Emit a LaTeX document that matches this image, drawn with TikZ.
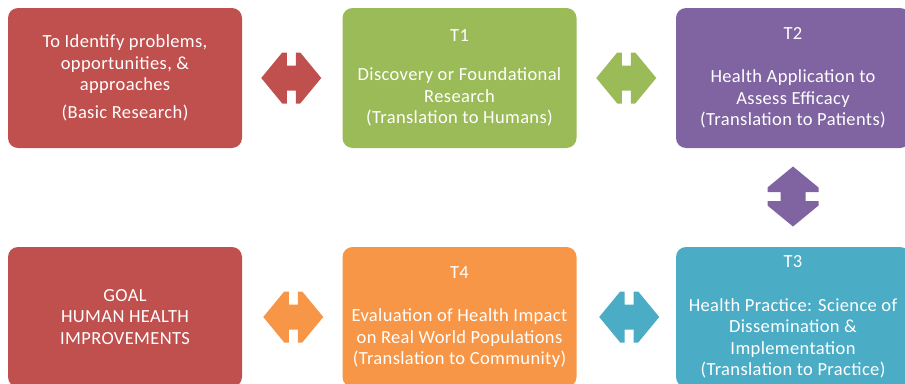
\documentclass[tikz,border=0pt]{standalone}
\usepackage{fontspec}
\setmainfont{Carlito}[LetterSpace=2]
\definecolor{cred}{HTML}{C0504D}
\definecolor{cgreen}{HTML}{9BBB59}
\definecolor{cpurple}{HTML}{8064A2}
\definecolor{cteal}{HTML}{4BACC6}
\definecolor{corange}{HTML}{F79646}
\begin{document}
\begin{tikzpicture}[x=1pt,y=-1pt,
  box/.style={rounded corners=10pt, minimum width=234pt, minimum height=140pt,
    inner sep=0pt, text=white, align=center,
    font=\fontsize{18.5}{21.5}\selectfont},
  dblarr/.pic={\fill (-30,0) -- (-9,-25.5) -- (-4.5,-25.5) -- (-4.5,-12.5) -- (4.5,-12.5)
     -- (4.5,-25.5) -- (9,-25.5) -- (30,0) -- (9,25.5) -- (4.5,25.5) -- (4.5,12.5)
     -- (-4.5,12.5) -- (-4.5,25.5) -- (-9,25.5) -- cycle;}
]
\useasboundingbox (0,0) rectangle (905,383);
\clip (0,0) rectangle (905,383);
\node[box, fill=cred] (basic) at (125,78)
  {To Identify problems,\\opportunities, \&\\approaches\\[6.5pt](Basic Research)};
\node[box, fill=cgreen] (t1) at (459.5,78)
  {T1\\[17.5pt]Discovery or Foundational\\Research\\(Translation to Humans)};
\node[box, fill=cpurple] (t2) at (793,78)
  {T2\\[21.5pt]Health Application to\\Assess Efficacy\\(Translation to Patients)};
\node[box, fill=cred] (goal) at (125,317)
  {GOAL\\HUMAN HEALTH\\IMPROVEMENTS};
\node[box, fill=corange] (t4) at (459.5,317)
  {T4\\[22pt]Evaluation of Health Impact\\on Real World Populations\\(Translation to Community)};
\node[box, fill=cteal] (t3) at (793,317)
  {T3\\[22pt]Health Practice: Science of\\Dissemination \&\\Implementation\\(Translation to Practice)};
\path (basic.east) -- (t1.west) coordinate[pos=0.49] (a1);
\path (t1.east) -- (t2.west) coordinate[midway] (a2);
\path (t2.south) -- (t3.north) coordinate[pos=0.49] (a3);
\path (t4.east) -- (t3.west) coordinate[pos=0.53] (a4);
\path (goal.east) -- (t4.west) coordinate[pos=0.51] (a5);
\pic[fill=cred] at (a1) {dblarr};
\pic[fill=cgreen] at (a2) {dblarr};
\pic[fill=cpurple, rotate=90] at (a3) {dblarr};
\pic[fill=cteal] at (a4) {dblarr};
\pic[fill=corange] at (a5) {dblarr};
\end{tikzpicture}
\end{document}
